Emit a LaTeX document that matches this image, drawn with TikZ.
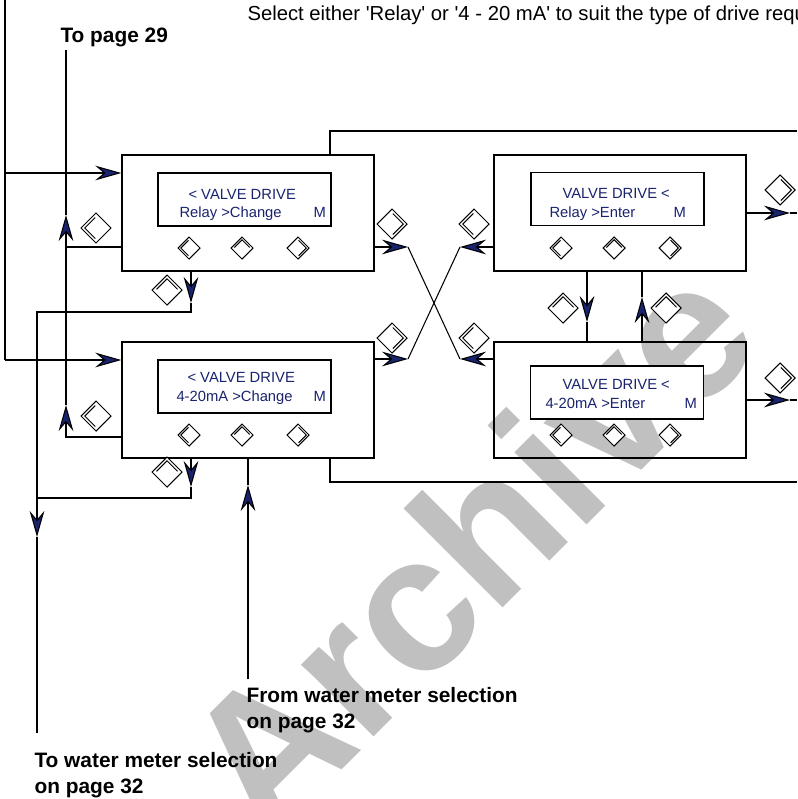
\documentclass[tikz,border=0pt]{standalone}
\usepackage{fontspec}
\setmainfont{Liberation Sans}
\usetikzlibrary{arrows.meta,calc}
\definecolor{lcdblue}{RGB}{25,35,110}
\definecolor{wmgrey}{RGB}{192,192,192}
\tikzset{
  >={Stealth[length=7.8mm,width=4.4mm,inset=2.6mm,fill=lcdblue]},
  panel/.style={draw,line width=1.2pt,minimum width=75.6mm,minimum height=34.8mm,inner sep=0pt},
  lcd/.style={draw,fill=white,line width=1.2pt,minimum width=51.9mm,minimum height=15.9mm,inner sep=0pt},
  lcdtxt/.style={anchor=base west,inner sep=0pt,text=lcdblue,font=\fontsize{12.6}{15}\selectfont},
  lbl/.style={anchor=base west,inner sep=0pt,align=left,font=\bfseries\fontsize{17.8}{22.1}\selectfont},
  wmark/.style={text=wmgrey,inner sep=0pt,rotate=45,font=\bfseries\fontsize{165}{168}\selectfont},
  keyl/.pic={\draw[fill=white] (-1,0)--(0,-1)--(1,0)--(0,1)--cycle; \draw (-0.05,-0.7)--(-0.75,0)--(-0.05,0.7);},
  keyu/.pic={\draw[fill=white] (-1,0)--(0,-1)--(1,0)--(0,1)--cycle; \draw (-0.7,-0.05)--(0,-0.75)--(0.7,-0.05);},
  keyr/.pic={\draw[fill=white] (-1,0)--(0,-1)--(1,0)--(0,1)--cycle; \draw (0.05,-0.7)--(0.75,0)--(0.05,0.7);},
  every picture/.style={line width=0.9pt},
}
\begin{document}
\begin{tikzpicture}[x=0.3mm,y=-0.3mm]
\useasboundingbox (0,0) rectangle (797,799);
\node[wmark] (arch) at (468,546) {Archive};
\node[panel] (b1) at (248,213){}; \node[panel] (b2) at (620,213){};
\node[panel] (b3) at (248,400){}; \node[panel] (b4) at (620,400){};
\node[lcd] (d1) at (244.5,199.5){}; \node[lcd] (d2) at (617.5,199){};
\node[lcd] (d3) at (244.5,386.5){}; \node[lcd] (d4) at (617,392.5){};
\node[lcdtxt] (t1a) at (188,199){< VALVE DRIVE}; \node[lcdtxt] (t1b) at (179,217){Relay >Change}; \node[lcdtxt] (m1) at (313,217){M};
\node[lcdtxt] (t2a) at (562,198){VALVE DRIVE <}; \node[lcdtxt] (t2b) at (549,217){Relay >Enter}; \node[lcdtxt] (m2) at (673,217){M};
\node[lcdtxt] (t3a) at (187,382){< VALVE DRIVE}; \node[lcdtxt] (t3b) at (176,401){4-20mA >Change}; \node[lcdtxt] (m3) at (313,401){M};
\node[lcdtxt] (t4a) at (562,389){VALVE DRIVE <}; \node[lcdtxt] (t4b) at (545,408){4-20mA >Enter}; \node[lcdtxt] (m4) at (684,408){M};
\foreach \b in {b1,b2,b3,b4}{
  \pic[scale=11] at ($(\b)+(-59,35)$) {keyl};
  \pic[scale=11] at ($(\b)+(-6,35)$) {keyu};
  \pic[scale=11] at ($(\b)+(50,35)$) {keyr};
}
\pic[scale=15] at (96,228) {keyl}; \pic[scale=15] at (96,416) {keyl};
\pic[scale=15] at (167,290) {keyu}; \pic[scale=15] at (167,472) {keyu};
\pic[scale=15] at (392,224) {keyr}; \pic[scale=15] at (474,224) {keyl};
\pic[scale=15] at (392,338) {keyr}; \pic[scale=15] at (474,338) {keyl};
\pic[scale=15] at (563,308) {keyu}; \pic[scale=15] at (666,308) {keyu};
\pic[scale=15] at (780,190) {keyr}; \pic[scale=15] at (780,378) {keyr};
\node[anchor=base west,inner sep=0pt,font=\fontsize{17.3}{20}\selectfont] (sel) at (247,21)
  {Select either \textquotesingle Relay\textquotesingle{} or \textquotesingle 4 - 20 mA\textquotesingle{} to suit the type of drive required};
\node[lbl] (lp29) at (60,42){To page 29};
\node[lbl] (lfrom) at (246,728){From water meter selection\\on page 32};
\node[lbl] (lto) at (34,793){To water meter selection\\on page 32};
\coordinate (top) at (5,0); \coordinate (j1) at (5,173); \coordinate (j3) at (5,360);
\draw (top) -- (j3); \draw[->] (j1) -- (j1 -| b1.west); \draw[->] (j3) -- (j3 -| b3.west);
\coordinate (p29) at (66,50); \coordinate (k1) at (66,247); \coordinate (k3) at (66,437);
\coordinate (a1) at (66,215); \coordinate (a3) at (66,405);
\draw (k1 -| b1.west) -- (k1); \draw[->] (k3 -| b3.west) -- (k3) -- (a3);
\draw[->] (a3) -- (a1); \draw (a1) -- (p29);
\coordinate (f1) at (191,303); \coordinate (e1) at (191,312); \coordinate (f3) at (191,487); \coordinate (e3) at (191,498);
\coordinate (w1) at (37,312); \coordinate (w3) at (37,498); \coordinate (g) at (37,537); \coordinate (wend) at (37,733);
\draw[->] (f1 |- b1.south) -- (f1); \draw[->] (f1) -- (e1) -- (w1) -- (g); \draw (g) -- (wend);
\draw[->] (f3 |- b3.south) -- (f3); \draw (f3) -- (e3) -- (w3);
\coordinate (fw) at (248,679); \coordinate (h) at (248,485);
\draw[->] (fw) -- (h); \draw (h) -- (h |- b3.south);
\coordinate (lp1) at (330,131); \coordinate (lp1e) at (797,131);
\coordinate (lp3) at (330,482); \coordinate (lp3e) at (797,482);
\draw (lp1 |- b1.north) -- (lp1) -- (lp1e); \draw (lp3 |- b3.south) -- (lp3) -- (lp3e);
\coordinate (x1) at (408,247); \coordinate (x2) at (460,247); \coordinate (x3) at (408,359); \coordinate (x4) at (460,359);
\draw[->] (x1 -| b1.east) -- (x1); \draw (x1) -- (x4); \draw[->] (x4 -| b4.west) -- (x4);
\draw[->] (x3 -| b3.east) -- (x3); \draw (x3) -- (x2); \draw[->] (x2 -| b2.west) -- (x2);
\coordinate (v1) at (587,322); \coordinate (v2) at (642,297);
\draw[->] (v1 |- b2.south) -- (v1); \draw (v1) -- (v1 |- b4.north);
\draw[->] (v2 |- b4.north) -- (v2); \draw (v2) -- (v2 |- b2.south);
\coordinate (r2) at (790,213); \coordinate (r2e) at (797,213); \coordinate (r4) at (790,400); \coordinate (r4e) at (797,400);
\draw[->] (b2.east) -- (r2); \draw (r2) -- (r2e); \draw[->] (b4.east) -- (r4); \draw (r4) -- (r4e);
\end{tikzpicture}
\end{document}
